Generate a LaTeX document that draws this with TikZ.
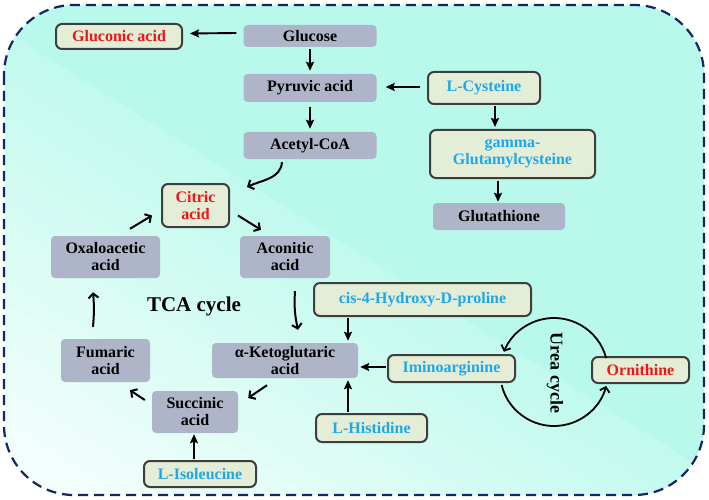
\documentclass[tikz,border=0pt]{standalone}
\usepackage{fontspec}
\setmainfont{Liberation Serif}
\usetikzlibrary{arrows.meta,calc}
\definecolor{bgcyan}{RGB}{184,249,235}
\definecolor{boxgray}{RGB}{174,181,200}
\definecolor{boxbeige}{RGB}{228,237,214}
\definecolor{boxedge}{RGB}{62,62,62}
\definecolor{framenavy}{RGB}{22,38,100}
\definecolor{bluetxt}{RGB}{28,168,234}
\definecolor{redtxt}{RGB}{238,22,22}
\begin{document}
\begin{tikzpicture}[x=1pt,y=1pt,
  base/.style={inner sep=0pt, align=center, font=\bfseries\fontsize{16}{17}\selectfont},
  gbox/.style={base, fill=boxgray, rounded corners=4pt},
  ybox/.style={base, fill=boxbeige, draw=boxedge, line width=2pt, rounded corners=6pt},
  arr/.style={line width=1.9pt, -{Stealth[length=9pt,width=8pt,inset=1.5pt]}},
  cyc/.style={line width=2pt, -{Straight Barb[length=4.5pt,width=10pt]}},
  urea/.style={line width=1.8pt, -{Straight Barb[length=4.5pt,width=10pt]}}]
\useasboundingbox (0,0) rectangle (709,-500);

% background: cyan panel fading to white towards the lower left
\begin{scope}
  \clip[rounded corners=70pt] (4,-5) rectangle (704,-495);
  \fill[bgcyan] (0,0) rectangle (709,-500);
  \begin{scope}[shift={(0,-28)}, rotate=-32.1]
    \foreach \k in {0,...,46} {
      \pgfmathsetmacro\p{max(6, 86 - 2.0*\k)}
      \fill[bgcyan!\p!white] (-300,{-10*\k}) rectangle (1300,{-10*\k-10.6});
    }
  \end{scope}
\end{scope}
\draw[framenavy, line width=2.2pt, dash pattern=on 10pt off 6pt, rounded corners=70pt]
  (4,-5) rectangle (704,-495);

% glycolysis branch
\node[ybox, text=redtxt, minimum width=126pt, minimum height=25pt] (glucon) at (119,-36.5) {Gluconic acid};
\node[gbox, minimum width=133pt, minimum height=22pt] (glucose) at (310,-36) {Glucose};
\node[gbox, minimum width=133pt, minimum height=28pt] (pyruvic) at (310,-88) {Pyruvic acid};
\node[gbox, minimum width=133pt, minimum height=27pt] (acetyl) at (310,-145.5) {Acetyl-CoA};

% glutathione branch
\node[ybox, text=bluetxt, minimum width=112pt, minimum height=32pt] (cys) at (484,-88) {L-Cysteine};
\node[ybox, text=bluetxt, minimum width=165pt, minimum height=48pt] (gam) at (512.5,-154) {gamma-\\Glutamylcysteine};
\node[gbox, minimum width=132pt, minimum height=27pt] (glut) at (499,-216.5) {Glutathione};

% TCA cycle
\node[ybox, text=redtxt, minimum width=67pt, minimum height=43pt] (citric) at (195.5,-205.5) {Citric\\acid};
\node[gbox, minimum width=109pt, minimum height=42pt] (oxalo) at (105.5,-257) {Oxaloacetic\\acid};
\node[gbox, minimum width=90pt, minimum height=42pt] (acon) at (285,-257) {Aconitic\\acid};
\node[gbox, minimum width=146pt, minimum height=35pt] (akg) at (285,-360.5) {α-Ketoglutaric\\acid};
\node[gbox, minimum width=89pt, minimum height=43pt] (fum) at (105.5,-360.5) {Fumaric\\acid};
\node[gbox, minimum width=86pt, minimum height=42pt] (succ) at (195,-412) {Succinic\\acid};
\node[base, font=\bfseries\fontsize{21}{24}\selectfont] (tca) at (194,-306) {TCA cycle};

% amino acid inputs
\node[ybox, text=bluetxt, minimum width=217pt, minimum height=33pt] (cis) at (422.5,-299.5) {cis-4-Hydroxy-D-proline};
\node[ybox, text=bluetxt, minimum width=127pt, minimum height=27pt] (imino) at (451.5,-368.5) {Iminoarginine};
\node[ybox, text=bluetxt, minimum width=111pt, minimum height=28pt] (hist) at (371.5,-428) {L-Histidine};
\node[ybox, text=bluetxt, minimum width=112pt, minimum height=26pt] (iso) at (200,-474) {L-Isoleucine};
\node[ybox, text=redtxt, minimum width=97pt, minimum height=26pt] (orn) at (640.5,-370) {Ornithine};

% urea cycle
\coordinate (ucent) at (554,-372);
\node[base, font=\bfseries\fontsize{18}{20}\selectfont, rotate=-90] (ureatxt) at (555,-373) {Urea cycle};
\draw[urea] (ucent) ++(15:54) arc[start angle=15, end angle=158, radius=54];
\draw[urea] (ucent) ++(-166:54) arc[start angle=-166, end angle=-15, radius=54];

% straight connectors
\draw[arr] ([shift={(-7pt,3pt)}]glucose.west) -- ([shift={(7pt,3pt)}]glucon.east);
\draw[arr] ([yshift=-2pt]glucose.south) -- ([yshift=3pt]pyruvic.north);
\draw[arr] ([yshift=-5pt]pyruvic.south) -- ([yshift=3pt]acetyl.north);
\draw[arr] ([shift={(-7pt,1pt)}]cys.west) -- ([shift={(9pt,1pt)}]pyruvic.east);
\draw[arr] ([yshift=-1pt]cys.south -| 495,0) -- ([yshift=2pt]gam.north -| 495,0);
\draw[arr] ([yshift=-2pt]gam.south -| 498,0) -- ([yshift=1pt]glut.north -| 498,0);
\draw[arr] ([yshift=-1pt]cis.south -| 348,0) -- ([yshift=2pt]akg.north -| 348,0);
\draw[arr] ([xshift=-1pt,yshift=1.5pt]imino.west) -- ([xshift=2pt,yshift=-6.5pt]akg.east);
\draw[arr] ([yshift=1pt]hist.north -| 348,0) -- ([yshift=-2pt]akg.south -| 348,0);
\draw[arr] ([yshift=1pt]iso.north -| 194,0) -- ([yshift=-1pt]succ.south -| 194,0);

% cycle connectors
\draw[cyc] ([shift={(-28pt,-3pt)}]acetyl.south) to[out=-95, in=25] ([shift={(17pt,-4pt)}]citric.north east);
\draw[cyc] ([shift={(24.5pt,7pt)}]oxalo.north) -- ([shift={(-9pt,-10pt)}]citric.west);
\draw[cyc] ([shift={(8pt,-10pt)}]citric.east) -- ([shift={(-24pt,6pt)}]acon.north);
\draw[cyc] ([shift={(10pt,-13pt)}]acon.south) to[bend right=8] ([shift={(13pt,13pt)}]akg.north);
\draw[cyc] ([shift={(-18pt,-7pt)}]akg.south) -- ([shift={(10pt,14pt)}]succ.east);
\draw[cyc] ([shift={(-7pt,12pt)}]succ.west) -- ([shift={(24.5pt,-8pt)}]fum.south);
\draw[cyc] ([shift={(-12.5pt,12pt)}]fum.north) to[bend right=5] ([shift={(-12.5pt,-14pt)}]oxalo.south);
\end{tikzpicture}
\end{document}
